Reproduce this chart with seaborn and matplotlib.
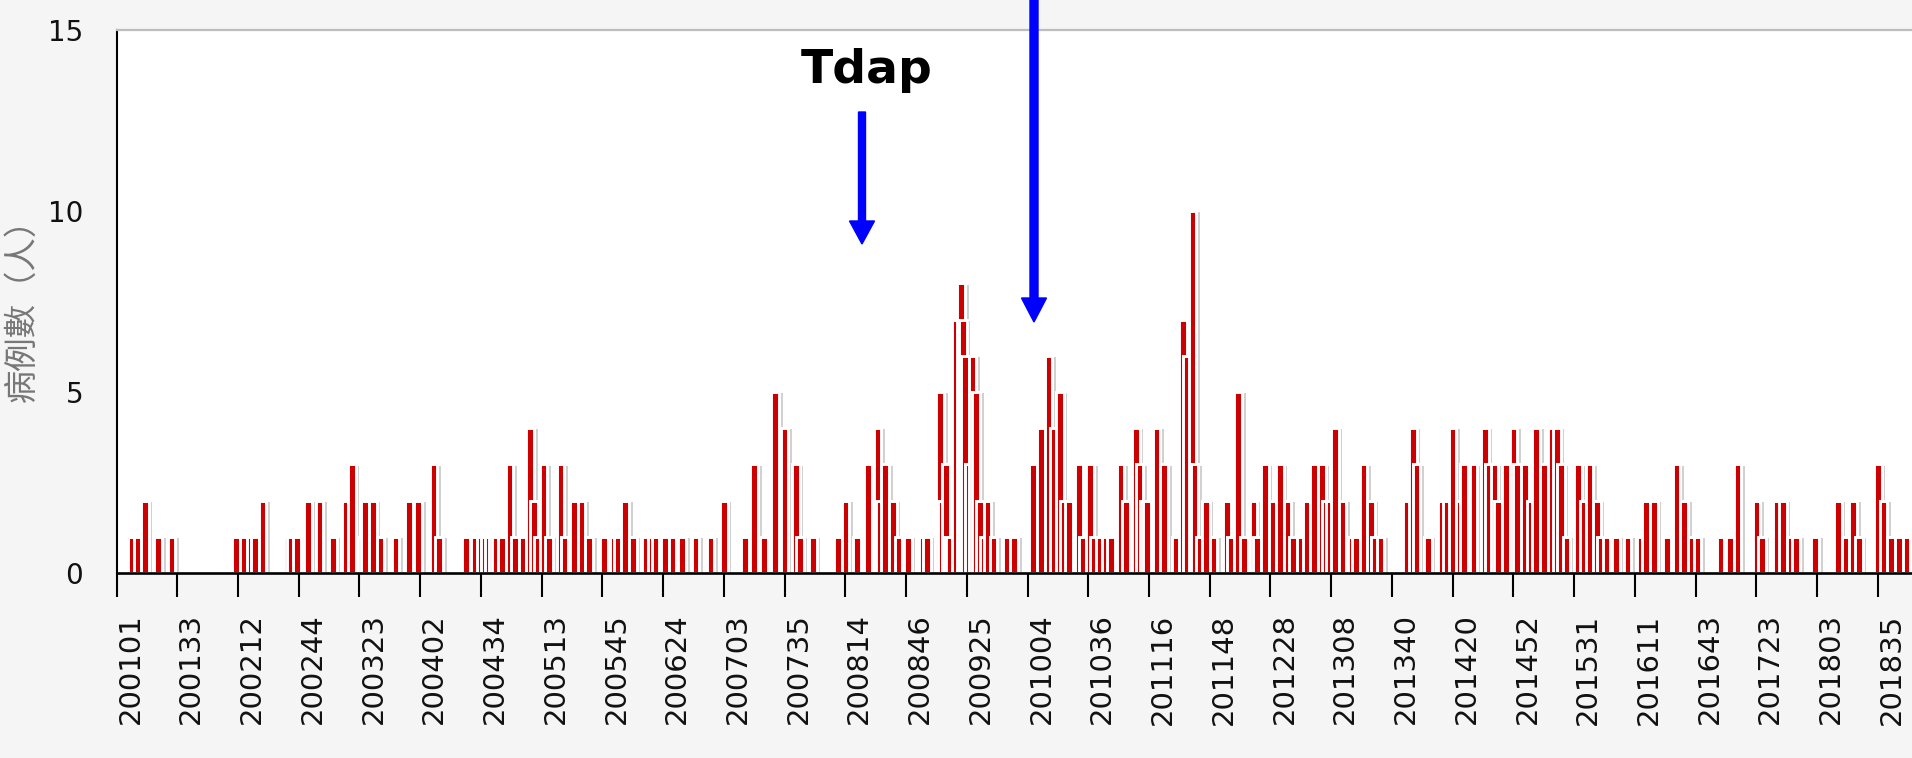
import numpy as np
import pandas as pd
import matplotlib
matplotlib.use("Agg")
import matplotlib.pyplot as plt
import matplotlib.patheffects as pe
from matplotlib.patches import FancyArrow
from matplotlib.transforms import IdentityTransform
import seaborn as sns

# ---------------- data (weekly case counts) ----------------
years = [2001, 2002, 2003, 2004, 2005, 2006, 2007, 2008, 2009,
         2010, 2011, 2012, 2013, 2014, 2015, 2016, 2017, 2018]
weeks_per_year = [53, 53, 53, 53, 53, 53, 53, 53, 53,
                  52, 52, 52, 52, 53, 52, 52, 52, 52]

cases_2001 = [0,0,0,0,0,0,0,0,1,0, 0,1,0,0,0,2,0,0,0,0, 0,0,1,0,0,0,0,0,0,1,
              0,0,0,0,0,0,0,0,0,0, 0,0,0,0,0,0,0,0,0,0, 0,0,0]
cases_2002 = [0,0,0,0,0,0,0,0,0,0, 1,0,0,0,1,0,0,0,1,0, 1,0,0,0,2,0,0,0,0,0,
              0,0,0,0,0,0,0,1,0,1, 0,0,1,0,0,0,0,0,2,0, 0,0,0]
cases_2003 = [0,2,0,0,0,0,0,0,1,0, 0,0,0,0,0,2,0,0,3,0, 0,0,0,1,0,2,0,0,0,2,
              0,0,0,1,0,0,0,0,0,0, 0,1,0,0,0,0,0,0,2,0, 0,0,0]
cases_2004 = [2,0,0,0,0,0,0,0,3,0, 0,1,0,0,0,0,0,0,0,0, 0,0,0,0,0,1,0,0,0,0,
              1,0,0,1,0,1,0,1,0,1, 0,1,0,0,1,0,0,0,3,0, 0,1,0]
cases_2005 = [0,0,1,0,0,0,4,0,2,0, 1,0,0,3,0,0,1,0,0,0, 0,0,3,0,1,0,0,0,0,2,
              0,0,0,2,0,0,0,1,0,0, 0,0,0,0,0,1,0,0,0,0, 1,0,1]
cases_2006 = [0,0,0,2,0,0,0,1,0,0, 0,0,0,0,1,0,0,1,0,1, 0,0,0,0,1,0,0,0,1,0,
              0,0,0,1,0,0,0,0,0,0, 1,0,0,0,0,0,0,0,1,0, 0,0,0]
cases_2007 = [0,0,2,0,0,0,0,0,0,0, 0,0,0,1,0,0,0,0,3,0, 0,0,0,1,0,0,0,0,0,5,
              0,0,0,0,4,0,0,0,0,0, 3,0,1,0,0,0,0,0,0,1, 0,0,0]
cases_2008 = [0,0,0,0,0,0,0,0,0,1, 0,0,0,2,0,0,0,0,0,1, 0,0,0,0,0,3,0,0,0,0,
              4,2,0,0,3,0,0,0,2,0, 0,1,0,0,0,0,1,0,0,0, 0,0,0]
cases_2009 = [0,1,0,1,0,0,0,0,0,0, 5,2,0,3,1,1,0,0,7,0, 0,8,7,6,0,3,0,6,0,5,
              0,2,0,1,0,2,0,0,1,0, 0,0,0,0,0,1,0,0,0,1, 0,0,0]
cases_2010 = [0,0,0,0,0,0,3,0,0,0, 4,0,0,0,6,0,0,4,0,0, 5,0,2,0,0,2,0,0,0,0,
              3,0,1,0,0,0,3,0,1,0, 0,1,0,0,1,0,0,1,0,0, 0,0]
cases_2011 = [3,0,0,2,0,0,0,0,4,0, 3,0,2,0,2,0,0,0,0,4, 0,0,0,3,0,0,0,0,0,1,
              0,0,0,7,0,6,0,0,10,3, 0,0,1,0,0,2,0,0,0,1, 0,0]
cases_2012 = [0,0,0,0,2,0,1,0,0,0, 5,0,0,1,0,0,0,0,2,0, 1,0,0,0,3,0,0,0,2,0,
              0,0,3,0,0,0,2,0,0,1, 0,0,0,1,0,0,2,0,0,0, 3,0]
cases_2013 = [0,0,3,0,2,0,2,0,0,4, 0,0,0,2,0,0,0,0,1,0, 1,0,0,0,3,0,0,0,2,0,
              1,0,0,1,0,0,0,0,0,0, 0,0,0,0,0,0,0,2,0,0, 4,0]
cases_2014 = [3,0,0,0,0,0,1,0,0,0, 0,0,0,2,0,0,2,0,0,4, 0,0,0,2,0,3,0,0,0,0,
              3,0,0,0,0,0,4,0,3,0, 0,3,0,2,0,0,0,3,0,0, 0,4,0]
cases_2015 = [3,0,0,0,3,0,0,2,0,0, 4,0,0,0,3,0,0,0,4,0, 0,4,0,3,0,0,1,0,0,0,
              0,0,3,0,0,2,0,0,3,0, 0,0,2,0,1,0,0,1,0,0, 0,0]
cases_2016 = [1,0,0,0,0,0,1,0,0,0, 0,0,0,1,0,0,2,0,0,0, 2,0,0,0,0,0,0,1,0,0,
              0,0,3,0,0,0,2,0,0,0, 1,0,0,1,0,0,0,0,0,0, 0,0]
cases_2017 = [0,0,0,1,0,0,0,0,1,0, 0,0,3,0,0,0,0,0,0,0, 0,0,2,0,0,1,0,0,0,0,
              0,0,0,2,0,0,2,0,0,0, 1,0,0,1,0,0,0,0,0,0, 0,0]
cases_2018 = [0,1,0,0,0,0,0,0,0,0, 0,0,0,2,0,0,0,1,0,0, 0,2,0,0,1,0,0,0,0,0,
              0,0,0,0,3,0,0,2,0,0, 0,1,0,0,0,1,0,0,0,1, 0,0]

cases_by_year = [cases_2001, cases_2002, cases_2003, cases_2004, cases_2005,
                 cases_2006, cases_2007, cases_2008, cases_2009, cases_2010,
                 cases_2011, cases_2012, cases_2013, cases_2014, cases_2015,
                 cases_2016, cases_2017, cases_2018]

tick_labels = ["200101", "200133", "200212", "200244", "200323", "200402",
               "200434", "200513", "200545", "200624", "200703", "200735",
               "200814", "200846", "200925", "201004", "201036", "201116",
               "201148", "201228", "201308", "201340", "201420", "201452",
               "201531", "201611", "201643", "201723", "201803", "201835"]
y_ticks = [0, 5, 10, 15]
ylabel_text = "病例數（人）"
annotation_text = "Tdap"

# ---------------- build table ----------------
week_codes, counts = [], []
for yr, n, vals in zip(years, weeks_per_year, cases_by_year):
    assert len(vals) == n, (yr, len(vals))
    week_codes += [f"{yr}{w:02d}" for w in range(1, n + 1)]
    counts += vals
df = pd.DataFrame({"pos": np.arange(len(counts)), "week": week_codes, "cases": counts})

# ---------------- figure ----------------
sns.set_theme(style="white")
plt.rcParams["font.family"] = ["DejaVu Sans", "Noto Sans CJK TC"]

W, H = 1912, 758
fig = plt.figure(figsize=(W / 100, H / 100), dpi=100, facecolor="#f5f5f5")
left_px, top_px, base_px = 116.5, 30, 573
ax = fig.add_axes([left_px / W, 1 - base_px / H, (W - left_px) / W, (base_px - top_px) / H])
ax.set_facecolor("white")

sns.barplot(data=df, x="pos", y="cases", native_scale=True, width=4.0,
            color="#cc0000", saturation=1, errorbar=None,
            edgecolor="white", linewidth=2.1, ax=ax)

for p in ax.patches:
    p.set_path_effects([pe.SimplePatchShadow(offset=(2.6, -0.8), shadow_rgbFace=(0.55, 0.55, 0.55), alpha=0.4),
                        pe.Normal()])

ax.set_xlim(0, len(counts))
ax.set_ylim(0, 15)

tick_pos = [week_codes.index(t) for t in tick_labels]
ax.set_xticks(tick_pos)
ax.set_xticklabels(tick_labels, rotation=90, ha="left", va="top", fontsize=21, color="#111111")
ax.tick_params(axis="x", direction="out", length=17, width=1.5, color="black", pad=12, bottom=True)
ax.set_yticks(y_ticks)
ax.set_yticklabels([str(v) for v in y_ticks], fontsize=20, color="#111111")
ax.tick_params(axis="y", length=0, pad=24)

ax.spines["left"].set_color("black")
ax.spines["left"].set_linewidth(1.5)
ax.spines["bottom"].set_color("black")
ax.spines["bottom"].set_linewidth(1.9)
ax.spines["top"].set_color("#bdbdbd")
ax.spines["top"].set_linewidth(1.6)
ax.spines["right"].set_visible(False)
for s in ax.spines.values():
    s.set_zorder(5)

ax.set_xlabel("")
ax.set_ylabel(ylabel_text, fontsize=24, color="#777777",
              family=["Noto Sans CJK TC", "DejaVu Sans"])
ax.yaxis.set_label_coords((40 - left_px) / (W - left_px), (base_px - 302) / (base_px - top_px))

# annotation text and arrows (figure pixel coordinates)
fig.text(867 / W, 1 - 83 / H, annotation_text, fontsize=34, fontweight="bold",
         ha="center", va="baseline", color="black")
fig.add_artist(FancyArrow(862, H - 112, 0, -(244 - 112), width=7, head_width=25, head_length=23,
                          length_includes_head=True, color="#0000ff", transform=IdentityTransform()))
fig.add_artist(FancyArrow(1034, H + 2, 0, -(322 + 2), width=8, head_width=25, head_length=24,
                          length_includes_head=True, color="#0000ff", transform=IdentityTransform()))

fig.savefig("out.png", dpi=100, facecolor=fig.get_facecolor())
